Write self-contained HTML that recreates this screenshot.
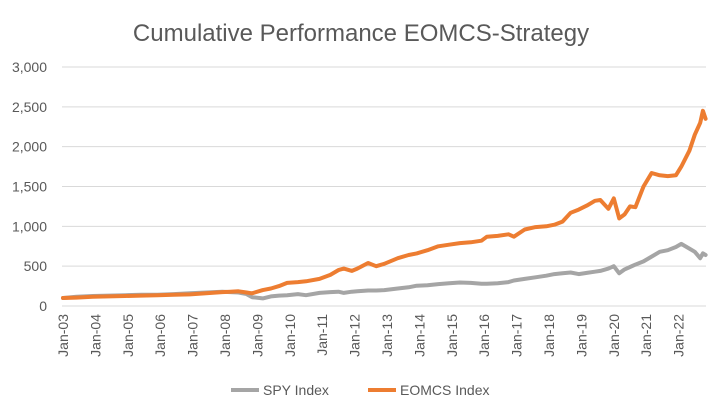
<!DOCTYPE html>
<html><head><meta charset="utf-8"><style>
html,body{margin:0;padding:0;background:#fff;}
svg{display:block;font-family:"Liberation Sans",sans-serif;}
</style></head><body>
<svg id="chart" width="716" height="412" viewBox="0 0 716 412"></svg>
<script>
const dates=["2003-01","2003-06","2003-12","2004-06","2004-12","2005-06","2005-12","2006-06","2006-12","2007-06","2007-12","2008-03","2008-06","2008-09","2008-11","2009-03","2009-06","2009-09","2009-12","2010-04","2010-07","2010-12","2011-04","2011-07","2011-09","2011-12","2012-02","2012-06","2012-09","2012-12","2013-05","2013-09","2013-12","2014-04","2014-08","2014-12","2015-04","2015-08","2015-12","2016-02","2016-06","2016-10","2016-12","2017-04","2017-08","2017-12","2018-03","2018-06","2018-09","2018-12","2019-03","2019-06","2019-08","2019-11","2020-01","2020-03","2020-05","2020-07","2020-09","2020-12","2021-03","2021-06","2021-09","2021-12","2022-02","2022-05","2022-07","2022-09","2022-10","2022-11"];
const spyValues=[100,115,125,130,135,140,140,150,160,170,180,175,170,150,110,95,120,130,135,150,135,165,175,180,165,180,185,195,195,200,220,235,255,260,275,285,295,290,280,280,285,300,320,340,360,380,400,410,420,400,415,430,440,470,500,410,460,490,520,560,620,680,700,740,780,720,680,600,660,640];
const eomcsValues=[100,105,115,120,125,130,135,140,145,160,175,180,185,170,160,200,220,250,290,300,310,340,390,450,470,440,470,540,500,530,600,640,660,700,750,770,790,800,820,870,880,900,870,960,990,1000,1020,1060,1170,1210,1260,1320,1330,1220,1350,1100,1150,1250,1240,1500,1670,1640,1630,1640,1750,1950,2150,2300,2450,2350];
const yTicks=[0,500,1000,1500,2000,2500,3000];
const yTickLabels=["0","500","1,000","1,500","2,000","2,500","3,000"];
const xTickLabels=["Jan-03","Jan-04","Jan-05","Jan-06","Jan-07","Jan-08","Jan-09","Jan-10","Jan-11","Jan-12","Jan-13","Jan-14","Jan-15","Jan-16","Jan-17","Jan-18","Jan-19","Jan-20","Jan-21","Jan-22"];

const svg=document.getElementById('chart');
const NS="http://www.w3.org/2000/svg";
const L=62,R=706,T=67,B=306,X0=63,PER_YEAR=32.4;
function yScale(v){return B-(v/3000)*(B-T);}
function xScale(d){const p=d.split('-');return X0+((+p[0]-2003)+(+p[1]-1)/12)*PER_YEAR;}
function mk(tag,attrs){const e=document.createElementNS(NS,tag);for(const k in attrs)e.setAttribute(k,attrs[k]);svg.appendChild(e);return e;}

const title=mk('text',{x:361,y:41,'text-anchor':'middle','font-size':24,fill:'#595959'});
title.textContent="Cumulative Performance EOMCS-Strategy";



yTicks.forEach((v,i)=>{
  const g=mk('line',{x1:L,x2:R,y1:yScale(v),y2:yScale(v),stroke:'#d9d9d9','stroke-width':1});
  
  
  const t=mk('text',{x:47,y:yScale(v)+5,'text-anchor':'end','font-size':14,fill:'#595959'});
  t.textContent=yTickLabels[i];
  
  
});

xTickLabels.forEach((lab,i)=>{
  const x=X0+i*PER_YEAR;
  const t=mk('text',{x:0,y:0,'text-anchor':'end','font-size':14,fill:'#595959',transform:`translate(${x+5},314) rotate(-90)`});
  t.textContent=lab;
  
  
});

function series(vals,color,name){
  const pts=dates.map((d,i)=>xScale(d).toFixed(1)+','+yScale(vals[i]).toFixed(1)).join(' ');
  const p=mk('polyline',{points:pts,fill:'none',stroke:color,'stroke-width':4,'stroke-linejoin':'round','stroke-linecap':'round'});
  
  
}
series(spyValues,'#a5a5a5','spy-line');
series(eomcsValues,'#ed7d31','eomcs-line');

const l1=mk('line',{x1:231,x2:259,y1:390,y2:390,stroke:'#a5a5a5','stroke-width':4});


const lt1=mk('text',{x:263,y:395,'font-size':14,fill:'#595959'});
lt1.textContent="SPY Index";


const l2=mk('line',{x1:368,x2:396,y1:390,y2:390,stroke:'#ed7d31','stroke-width':4});


const lt2=mk('text',{x:400,y:395,'font-size':14,fill:'#595959'});
lt2.textContent="EOMCS Index";


</script>
</body></html>
